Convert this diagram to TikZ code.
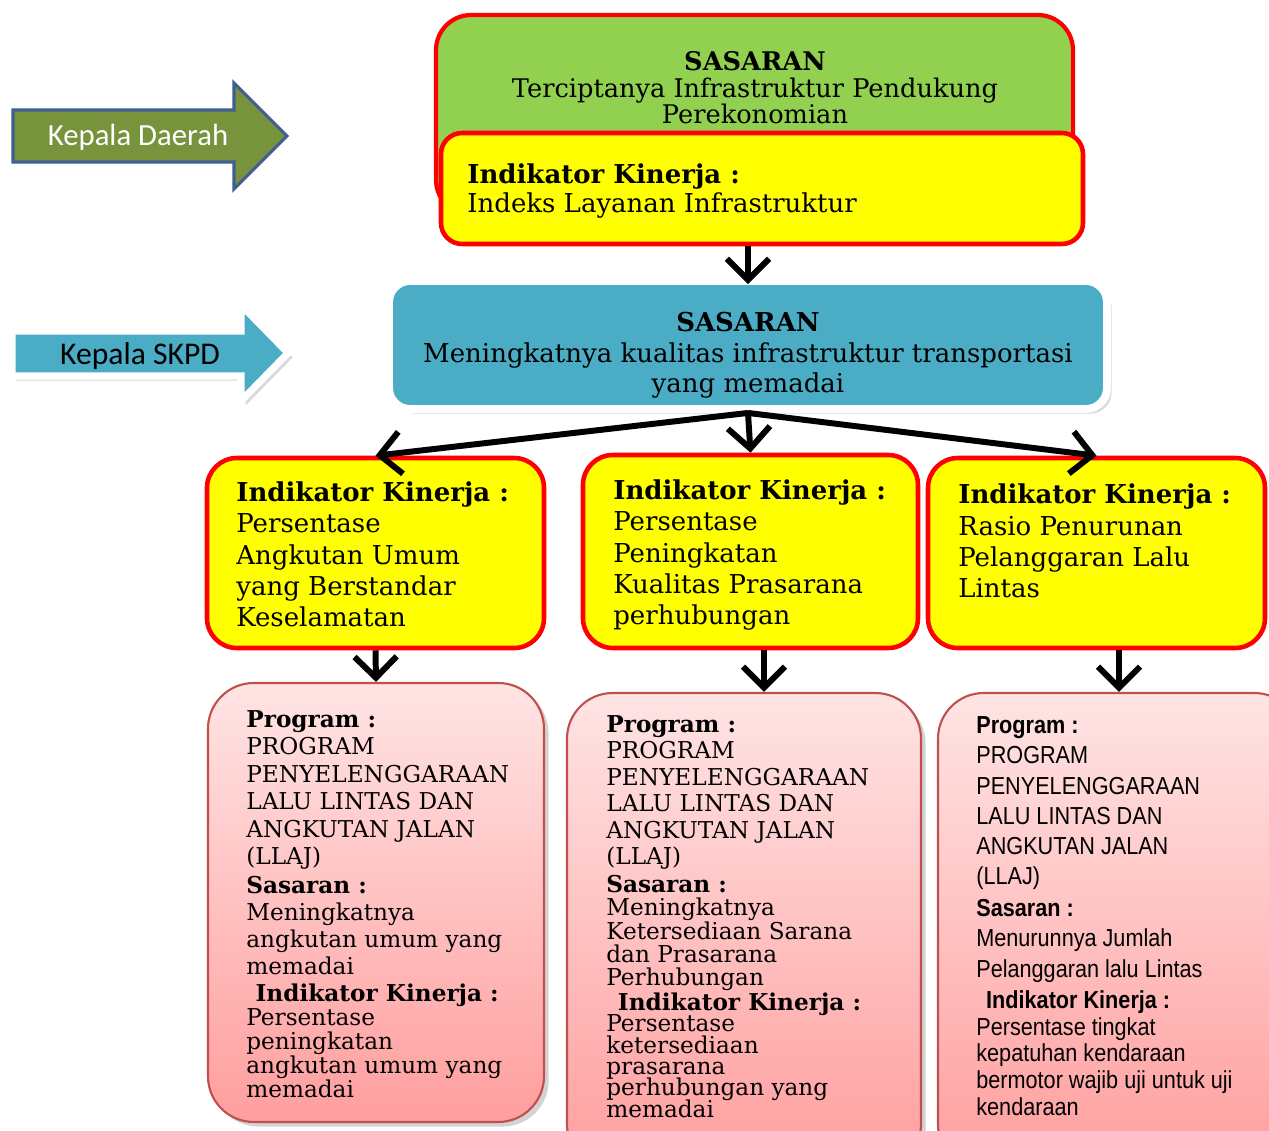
\documentclass[tikz,border=0pt]{standalone}
\usepackage{fontspec}
\setmainfont{DejaVu Serif}
\newfontfamily\calibfont{Carlito}
\newfontfamily\narrowfont[FakeStretch=0.88]{Liberation Sans}
\usetikzlibrary{arrows.meta,fit,shadows}

\definecolor{sasgreen}{HTML}{92D050}
\definecolor{ikyellow}{HTML}{FFFF00}
\definecolor{ikred}{HTML}{FF0000}
\definecolor{skpdblue}{HTML}{4BACC6}
\definecolor{daerahgreen}{HTML}{77933C}
\definecolor{daerahline}{HTML}{3F5F8F}
\definecolor{pinktop}{HTML}{FFE4E4}
\definecolor{pinkbot}{HTML}{FF9E9E}
\definecolor{pinkline}{HTML}{C0504D}

\tikzset{
  ikbox/.style={draw=ikred,fill=ikyellow,line width=2.6pt,rounded corners=17pt,inner sep=0pt},
  prbox/.style={draw=pinkline,line width=1.2pt,top color=pinktop,bottom color=pinkbot,
    rounded corners=26pt,inner sep=0pt,drop shadow={opacity=0.35}},
  flow/.style={line width=3.4pt,-{Straight Barb[length=12pt,width=24pt]}},
  txt/.style={anchor=base west,align=left,inner sep=0pt},
}

\begin{document}
\lineskiplimit=-20pt\relax
\begin{tikzpicture}[x=0.02cm,y=-0.02cm]
\clip (0,0) rectangle (1269,1131);
% kepala daerah / kepala skpd
\draw[fill=daerahgreen,draw=daerahline,line width=1.8pt] (13,110) -- (234,110) -- (234,83) -- (287,136) -- (234,189) -- (234,162) -- (13,162) -- cycle;
\node[text=white,font=\calibfont\fontsize{17.5}{20}\selectfont] (kd) at (138,137) {Kepala Daerah};
\draw[fill=skpdblue,draw=white,line width=4pt,drop shadow={opacity=0.3}] (12,331) -- (241,331) -- (241,305) -- (288,353) -- (241,401) -- (241,376) -- (12,376) -- cycle;
\node[font=\calibfont\fontsize{18}{21}\selectfont] (ks) at (140,356) {Kepala SKPD};

% sasaran daerah (base = baris terakhir)
\node[draw=ikred,fill=sasgreen,line width=2.4pt,rounded corners=20pt,inner sep=0pt,fit={(436,15) (1073,215)}] (sas1) {};
\node[align=center,anchor=base,inner sep=0pt,font=\fontsize{14.6}{15.3}\selectfont] (sas1t) at (755,124)
  {\textbf{SASARAN}\\Terciptanya Infrastruktur Pendukung\\Perekonomian};
\node[ikbox,rounded corners=12pt,fit={(441,133) (1083,244)}] (ik0) {};
\node[txt,font=\fontsize{14.8}{17}\selectfont] (ik0t) at (467,213) {\textbf{Indikator Kinerja :}\\Indeks Layanan Infrastruktur};

% sasaran skpd
\node[draw=white,fill=skpdblue,line width=4.5pt,rounded corners=12pt,inner sep=0pt,drop shadow={opacity=0.3},fit={(389,281) (1107,409)}] (sas2) {};
\node[align=center,anchor=base,inner sep=0pt,font=\fontsize{14.8}{17.6}\selectfont] (sas2t) at (748,393)
  {\textbf{SASARAN}\\Meningkatnya kualitas infrastruktur transportasi\\yang memadai};

% indikator kinerja
\node[ikbox,fit={(207,458) (544,648)}] (ik1) {};
\node[ikbox,fit={(583,455) (918,648)}] (ik2) {};
\node[ikbox,fit={(928,458) (1265,648)}] (ik3) {};
\node[txt,font=\fontsize{14.8}{17.9}\selectfont] (ik1t) at (236,627)
  {\textbf{Indikator Kinerja :}\\Persentase\\Angkutan Umum\\yang Berstandar\\Keselamatan};
\node[txt,font=\fontsize{14.8}{17.9}\selectfont] (ik2t) at (613,625)
  {\textbf{Indikator Kinerja :}\\Persentase\\Peningkatan\\Kualitas Prasarana\\perhubungan};
\node[txt,font=\fontsize{14.8}{17.9}\selectfont] (ik3t) at (958,598)
  {\textbf{Indikator Kinerja :}\\Rasio Penurunan\\Pelanggaran Lalu\\Lintas};

% program
\node[prbox,fit={(208,683) (544,1122)}] (pk1) {};
\node[prbox,fit={(567,693) (921,1170)}] (pk2) {};
\node[prbox,fit={(938,693) (1300,1170)}] (pk3) {};

\node[txt,font=\fontsize{13.2}{15.7}\selectfont] (pk1a) at (246,865)
  {\textbf{Program :}\\PROGRAM\\PENYELENGGARAAN\\LALU LINTAS DAN\\ANGKUTAN JALAN\\(LLAJ)};
\node[txt,font=\fontsize{13.2}{15.3}\selectfont] (pk1b) at (246,974)
  {\textbf{Sasaran :}\\Meningkatnya\\angkutan umum yang\\memadai};
\node[txt,font=\fontsize{13.2}{13.6}\selectfont] (pk1c) at (246,1097)
  {\hspace*{0.4em}\textbf{Indikator Kinerja :}\\Persentase\\peningkatan\\angkutan umum yang\\memadai};

\node[txt,font=\fontsize{13.2}{15.1}\selectfont] (pk2a) at (606,865)
  {\textbf{Program :}\\PROGRAM\\PENYELENGGARAAN\\LALU LINTAS DAN\\ANGKUTAN JALAN\\(LLAJ)};
\node[txt,font=\fontsize{13.2}{13.3}\selectfont] (pk2b) at (606,986)
  {\textbf{Sasaran :}\\Meningkatnya\\Ketersediaan Sarana\\dan Prasarana\\Perhubungan};
\node[txt,font=\fontsize{13.2}{12.1}\selectfont] (pk2c) at (606,1117)
  {\hspace*{0.5em}\textbf{Indikator Kinerja :}\\Persentase\\ketersediaan\\prasarana\\perhubungan yang\\memadai};

\node[txt,font=\narrowfont\fontsize{14}{17.26}\selectfont] (pk3a) at (976,885)
  {\textbf{Program :}\\PROGRAM\\PENYELENGGARAAN\\LALU LINTAS DAN\\ANGKUTAN JALAN\\(LLAJ)};
\node[txt,font=\narrowfont\fontsize{14}{17.26}\selectfont] (pk3b) at (976,977)
  {\textbf{Sasaran :}\\Menurunnya Jumlah\\Pelanggaran lalu Lintas};
\node[txt,font=\narrowfont\fontsize{14}{15.1}\selectfont] (pk3c) at (976,1115)
  {\hspace*{0.4em}\textbf{Indikator Kinerja :}\\Persentase tingkat\\kepatuhan kendaraan\\bermotor wajib uji untuk uji\\kendaraan};

% panah
\draw[flow,shorten >=-4pt] (ik0.south -| sas2.north) -- (sas2.north);
\draw[flow] (sas2.south) -- (ik1.north);
\draw[flow] (sas2.south) -- (ik2.north);
\draw[flow] (sas2.south) -- (ik3.north);
\draw[flow] (ik1.south) -- (pk1.north);
\draw[flow] ([xshift=0.27cm]ik2.south) -- ([xshift=0.27cm]ik2.south |- pk2.north);
\draw[flow] (ik3.south -| pk3.north) -- (pk3.north);
\end{tikzpicture}
\end{document}
